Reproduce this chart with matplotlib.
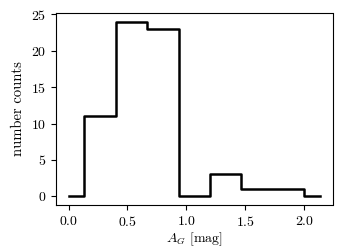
import numpy as np
import matplotlib
matplotlib.use("Agg")
import matplotlib.pyplot as plt

plt.rcParams['font.family'] = 'serif'
plt.rcParams['font.serif'] = ['cmr10']
plt.rcParams['mathtext.fontset'] = 'cm'
plt.rcParams['axes.formatter.use_mathtext'] = True

# bin centres and counts
ag = [0.0, 0.267, 0.533, 0.8, 1.067, 1.333, 1.6, 1.867, 2.133]
counts = [0, 11, 24, 23, 0, 3, 1, 1, 0]

fig = plt.figure(figsize=(3.5, 2.5), dpi=100)
ax = fig.add_subplot(111)
ax.step(ag, counts, where='mid', color='k', lw=1.8)
ax.set_xlabel(r'$A_G$ [mag]', fontsize=10, labelpad=1)
ax.set_ylabel('number counts', fontsize=10.5, labelpad=4)
ax.set_xticks([0.0, 0.5, 1.0, 1.5, 2.0])
ax.set_yticks([0, 5, 10, 15, 20, 25])
ax.tick_params(labelsize=10)
fig.subplots_adjust(left=0.16, right=0.95, bottom=0.18, top=0.948)
fig.savefig('out.png', dpi=100)
